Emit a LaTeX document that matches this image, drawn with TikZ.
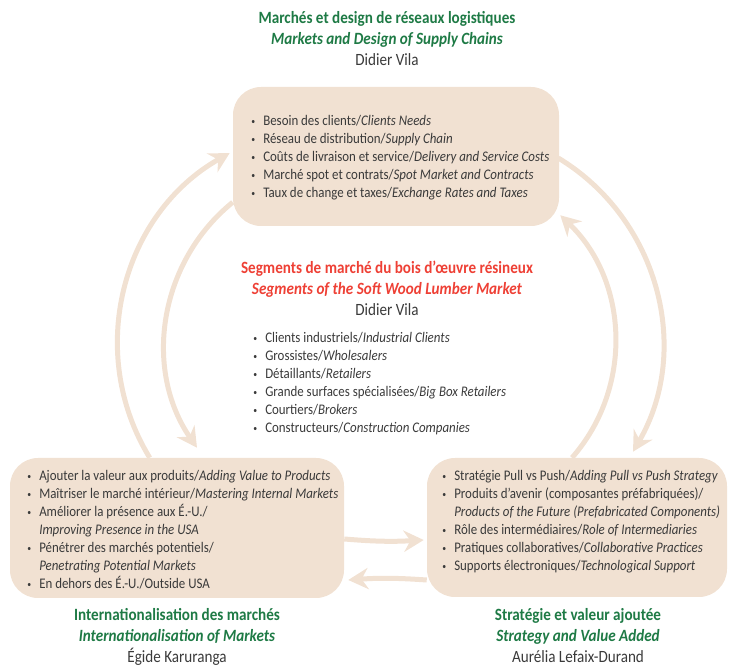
\documentclass[tikz,border=0pt]{standalone}
\usepackage{fontspec}
\setmainfont{Carlito}[FakeStretch=0.88]
\usetikzlibrary{arrows.meta,calc}
\definecolor{sand}{HTML}{F1E1D2}
\definecolor{leaf}{HTML}{1E7A45}
\definecolor{brick}{HTML}{EE4035}
\definecolor{ink}{HTML}{3A3A3A}
% two-column bullet list: small bullet, then text
\newenvironment{bulletlist}{\begin{tabular}[t]{@{}p{9pt}@{}l@{}}}{\end{tabular}}
\newcommand{\itm}{\raisebox{0.12ex}{\scalebox{0.6}{\textbullet}} &}
\begin{document}
\begin{tikzpicture}[x=0.75pt,y=-0.75pt,
  box/.style={fill=sand, draw=none, rounded corners=21pt, inner sep=0pt},
  flow/.style={draw=sand, line width=3.75pt, -{Stealth[length=15pt,width=16pt,inset=5pt]}},
  list/.style={anchor=base west, inner sep=0pt, text=ink, font=\fontsize{11}{13.5}\selectfont},
  head/.style={anchor=base, inner sep=0pt, font=\fontsize{12.9}{15.75}\selectfont}
]
\useasboundingbox (0,0) rectangle (729,666);

% the three theme boxes
\node[box, minimum width=244.5pt, minimum height=104.25pt] (T) at (396,156.5) {};
\node[box, minimum width=250.5pt, minimum height=105pt] (L) at (177,528) {};
\node[box, minimum width=225pt, minimum height=104.25pt] (R) at (577,527.5) {};

% headings
\node[head] (TH) at (387,24) {\begin{tabular}[t]{@{}c@{}}
  \color{leaf}\bfseries Marchés et design de réseaux logistiques\\
  \color{leaf}\bfseries\itshape Markets and Design of Supply Chains\\
  \color{ink}Didier Vila\end{tabular}};
\node[head] (MH) at (387,274) {\begin{tabular}[t]{@{}c@{}}
  \color{brick}\bfseries Segments de marché du bois d’œuvre résineux\\
  \color{brick}\bfseries\itshape Segments of the Soft Wood Lumber Market\\
  \color{ink}Didier Vila\end{tabular}};
\node[head] (LH) at (177,621) {\begin{tabular}[t]{@{}c@{}}
  \color{leaf}\bfseries Internationalisation des marchés\\
  \color{leaf}\bfseries\itshape Internationalisation of Markets\\
  \color{ink}Égide Karuranga\end{tabular}};
\node[head] (RH) at (578,621) {\begin{tabular}[t]{@{}c@{}}
  \color{leaf}\bfseries Stratégie et valeur ajoutée\\
  \color{leaf}\bfseries\itshape Strategy and Value Added\\
  \color{ink}Aurélia Lefaix-Durand\end{tabular}};

% bullet lists
\node[list] (TL) at (251,125.5) {\begin{bulletlist}
  \itm Besoin des clients/\textit{Clients Needs}\\
  \itm Réseau de distribution/\textit{Supply Chain}\\
  \itm Coûts de livraison et service/\textit{Delivery and Service Costs}\\
  \itm Marché spot et contrats/\textit{Spot Market and Contracts}\\
  \itm Taux de change et taxes/\textit{Exchange Rates and Taxes}
\end{bulletlist}};
\node[list] (ML) at (253,342.5) {\begin{bulletlist}
  \itm Clients industriels/\textit{Industrial Clients}\\
  \itm Grossistes/\textit{Wholesalers}\\
  \itm Détaillants/\textit{Retailers}\\
  \itm Grande surfaces spécialisées/\textit{Big Box Retailers}\\
  \itm Courtiers/\textit{Brokers}\\
  \itm Constructeurs/\textit{Construction Companies}
\end{bulletlist}};
\node[list] (LL) at (27,480.5) {\begin{bulletlist}
  \itm Ajouter la valeur aux produits/\textit{Adding Value to Products}\\
  \itm Maîtriser le marché intérieur/\textit{Mastering Internal Markets}\\
  \itm Améliorer la présence aux É.-U./\\
  & \textit{Improving Presence in the USA}\\
  \itm Pénétrer des marchés potentiels/\\
  & \textit{Penetrating Potential Markets}\\
  \itm En dehors des É.-U./Outside USA
\end{bulletlist}};
\node[list] (RL) at (442,480.5) {\begin{bulletlist}
  \itm Stratégie Pull vs Push/\textit{Adding Pull vs Push Strategy}\\
  \itm Produits d’avenir (composantes préfabriquées)/\\
  & \textit{Products of the Future (Prefabricated Components)}\\
  \itm Rôle des intermédiaires/\textit{Role of Intermediaries}\\
  \itm Pratiques collaboratives/\textit{Collaborative Practices}\\
  \itm Supports électroniques/\textit{Technological Support}
\end{bulletlist}};

% connectors between the boxes (circular arcs as Bezier curves)
\draw[flow] ($(L.north west)+(140,0)$) .. controls (85,352) and (122,214) .. ($(T.west)+(-3,-3.5)$);
\draw[flow] ($(T.south west)+(0,-24)$) .. controls (159,262) and (143,369) .. ($(L.north)+(20,-10)$);
\draw[flow] ($(T.east)+(-1,1.5)$) .. controls (659,219) and (692,350) .. ($(R.north)+(56,-6)$);
\draw[flow] ($(R.north)+(-5,0)$) .. controls (634,387) and (628,280) .. ($(T.south east)+(1,-11)$);
\draw[flow] ($(L.east)+(0,11)$) to[bend right=4] ($(R.west)+(-3,12.5)$);
\draw[flow] ($(R.west)+(0,52.5)$) to[bend right=4] ($(L.east)+(4,52)$);
\end{tikzpicture}
\end{document}
